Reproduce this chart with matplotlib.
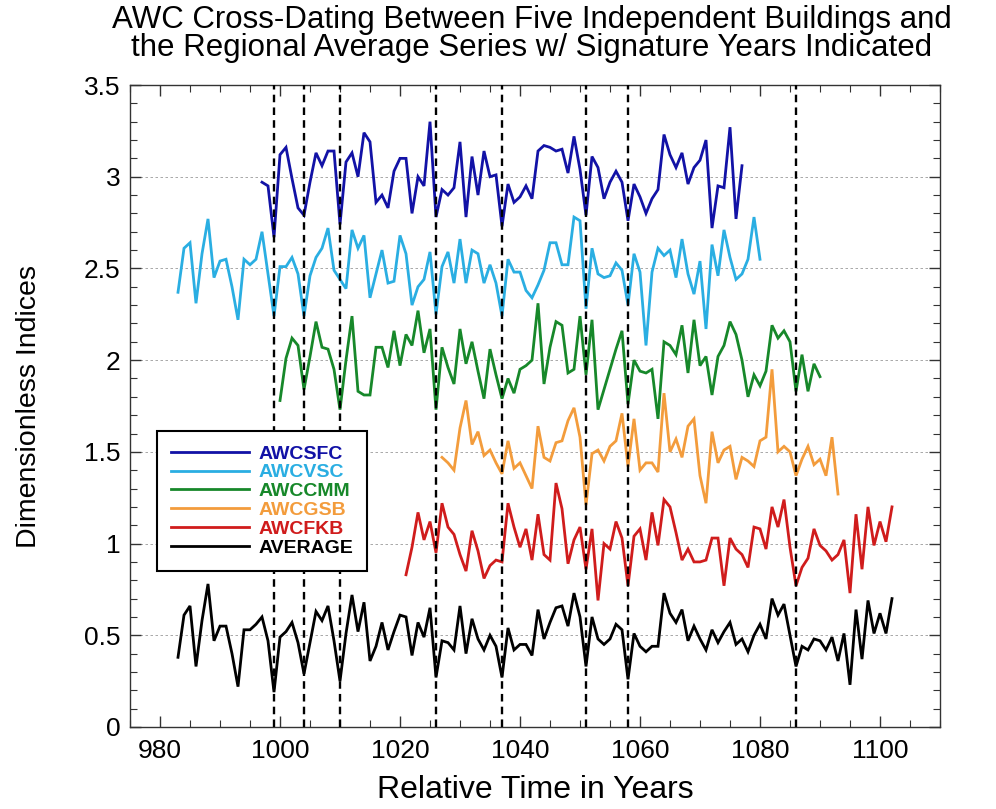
import numpy as np
import matplotlib
matplotlib.use("Agg")
import matplotlib.pyplot as plt
from matplotlib.ticker import MultipleLocator

plt.rcParams['font.family'] = ['Liberation Sans', 'DejaVu Sans']

# ---------------- data ----------------
series_names = ["AWCSFC", "AWCVSC", "AWCCMM", "AWCGSB", "AWCFKB", "AVERAGE"]
series_colors = ["#1212a6", "#2aaee2", "#17882a", "#f39c3c", "#d01c1c", "#000000"]

sfc_start = 997
sfc = [2.97, 2.95, 2.67, 3.12, 3.16, 2.99, 2.83, 2.79, 2.97, 3.13,
       3.06, 3.14, 3.14, 2.74, 3.08, 3.13, 3.00, 3.24, 3.19, 2.86,
       2.90, 2.83, 3.03, 3.10, 3.10, 2.80, 3.00, 2.95, 3.30, 2.78,
       2.93, 2.90, 2.94, 3.19, 2.78, 3.11, 2.90, 3.14, 3.00, 3.01,
       2.73, 2.96, 2.86, 2.89, 2.95, 2.88, 3.14, 3.17, 3.16, 3.14,
       3.15, 3.02, 3.22, 3.04, 2.79, 3.11, 3.05, 2.88, 2.97, 3.03,
       2.97, 2.76, 2.96, 2.89, 2.80, 2.88, 2.93, 3.23, 3.12, 3.05,
       3.13, 2.96, 3.05, 3.09, 3.20, 2.72, 2.95, 2.94, 3.27, 2.77,
       3.06]

vsc_start = 983
vsc = [2.37, 2.61, 2.64, 2.31, 2.58, 2.77, 2.45, 2.54, 2.55, 2.40,
       2.22, 2.55, 2.52, 2.55, 2.70, 2.47, 2.24, 2.51, 2.51, 2.56,
       2.47, 2.24, 2.46, 2.56, 2.61, 2.72, 2.49, 2.44, 2.39, 2.71,
       2.61, 2.68, 2.34, 2.47, 2.60, 2.42, 2.43, 2.68, 2.58, 2.30,
       2.40, 2.44, 2.59, 2.25, 2.51, 2.59, 2.42, 2.66, 2.42, 2.60,
       2.58, 2.42, 2.52, 2.42, 2.24, 2.55, 2.48, 2.48, 2.38, 2.34,
       2.41, 2.49, 2.64, 2.64, 2.52, 2.52, 2.78, 2.76, 2.28, 2.61,
       2.47, 2.45, 2.46, 2.53, 2.49, 2.30, 2.58, 2.48, 2.08, 2.48,
       2.61, 2.57, 2.60, 2.45, 2.66, 2.47, 2.36, 2.54, 2.17, 2.63,
       2.46, 2.71, 2.56, 2.44, 2.47, 2.55, 2.78, 2.55]

cmm_start = 1000
cmm = [1.78, 2.01, 2.12, 2.08, 1.84, 2.02, 2.21, 2.07, 2.06, 1.95,
       1.73, 2.00, 2.24, 1.83, 1.81, 1.81, 2.07, 2.07, 1.96, 2.16,
       1.97, 2.14, 2.08, 2.27, 2.04, 2.17, 1.73, 2.07, 1.96, 1.87,
       2.17, 1.98, 2.10, 1.94, 1.79, 2.06, 1.92, 1.79, 1.90, 1.82,
       1.95, 1.97, 2.00, 2.31, 1.87, 2.07, 2.21, 2.19, 1.93, 1.95,
       2.24, 1.92, 2.22, 1.73, 1.84, 1.95, 2.06, 2.16, 1.76, 2.00,
       1.94, 1.93, 1.95, 1.68, 2.10, 2.08, 2.03, 2.19, 1.93, 2.22,
       1.97, 2.02, 1.81, 2.02, 2.08, 2.21, 2.14, 2.00, 1.80, 1.92,
       1.86, 1.94, 2.19, 2.12, 2.16, 2.10, 1.83, 2.03, 1.83, 1.98,
       1.91]

gsb_start = 1027
gsb = [1.47, 1.44, 1.40, 1.63, 1.78, 1.54, 1.61, 1.48, 1.51, 1.44,
       1.38, 1.56, 1.41, 1.44, 1.37, 1.30, 1.64, 1.47, 1.45, 1.55,
       1.56, 1.67, 1.74, 1.58, 1.21, 1.49, 1.51, 1.45, 1.53, 1.56,
       1.71, 1.42, 1.68, 1.40, 1.44, 1.44, 1.39, 1.82, 1.50, 1.57,
       1.47, 1.64, 1.68, 1.37, 1.22, 1.61, 1.44, 1.51, 1.53, 1.35,
       1.47, 1.45, 1.42, 1.56, 1.58, 1.95, 1.50, 1.53, 1.50, 1.37,
       1.46, 1.53, 1.43, 1.46, 1.37, 1.58, 1.27]

fkb_start = 1021
fkb = [0.83, 0.98, 1.17, 1.02, 1.12, 0.95, 1.22, 1.09, 1.05, 0.94,
       0.85, 1.07, 0.96, 0.81, 0.88, 0.91, 0.90, 1.22, 1.09, 0.98,
       1.08, 0.91, 1.16, 0.94, 0.91, 1.33, 1.19, 0.89, 1.02, 1.09,
       0.86, 1.08, 0.69, 1.00, 0.97, 1.12, 1.03, 0.77, 1.04, 1.08,
       0.91, 1.17, 0.99, 1.24, 1.20, 1.06, 0.91, 0.97, 0.90, 0.90,
       0.91, 1.03, 1.03, 0.77, 1.03, 0.97, 0.94, 0.87, 1.09, 1.08,
       0.97, 1.20, 1.09, 1.24, 0.98, 0.77, 0.87, 0.92, 1.08, 0.99,
       0.96, 0.91, 0.94, 1.02, 0.73, 1.16, 0.86, 1.20, 0.99, 1.12,
       1.01, 1.20]

avg_start = 983
avg = [0.38, 0.61, 0.66, 0.33, 0.58, 0.78, 0.47, 0.55, 0.55, 0.40,
       0.22, 0.53, 0.53, 0.56, 0.60, 0.47, 0.19, 0.49, 0.52, 0.57,
       0.46, 0.29, 0.46, 0.63, 0.58, 0.66, 0.47, 0.25, 0.51, 0.72,
       0.52, 0.68, 0.36, 0.44, 0.57, 0.42, 0.52, 0.61, 0.60, 0.39,
       0.57, 0.49, 0.65, 0.27, 0.47, 0.46, 0.42, 0.66, 0.40, 0.59,
       0.48, 0.42, 0.50, 0.44, 0.27, 0.54, 0.42, 0.45, 0.45, 0.39,
       0.64, 0.48, 0.57, 0.65, 0.66, 0.55, 0.73, 0.60, 0.33, 0.60,
       0.48, 0.45, 0.48, 0.56, 0.53, 0.26, 0.51, 0.44, 0.41, 0.44,
       0.44, 0.73, 0.62, 0.57, 0.64, 0.47, 0.55, 0.48, 0.42, 0.53,
       0.46, 0.52, 0.57, 0.45, 0.48, 0.41, 0.50, 0.56, 0.48, 0.70,
       0.61, 0.67, 0.50, 0.33, 0.44, 0.42, 0.48, 0.47, 0.42, 0.49,
       0.36, 0.51, 0.23, 0.64, 0.37, 0.69, 0.51, 0.62, 0.51, 0.70]

signature_years = [999, 1004, 1010, 1026, 1037, 1051, 1058, 1086]

y_ticks = [0, 0.5, 1, 1.5, 2, 2.5, 3, 3.5]
y_tick_labels = ["0", "0.5", "1", "1.5", "2", "2.5", "3", "3.5"]
x_ticks = [980, 1000, 1020, 1040, 1060, 1080, 1100]

title_text = ("AWC Cross-Dating Between Five Independent Buildings and\n"
              "the Regional Average Series w/ Signature Years Indicated")
x_label = "Relative Time in Years"
y_label = "Dimensionless Indices"

# ---------------- figure ----------------
W, H = 996, 809
fig = plt.figure(figsize=(W / 100, H / 100), dpi=100)
ax = fig.add_axes([130 / W, 82 / H, 810 / W, 642 / H])

all_series = [(sfc_start, sfc), (vsc_start, vsc), (cmm_start, cmm),
              (gsb_start, gsb), (fkb_start, fkb), (avg_start, avg)]

for y in y_ticks[1:-1]:
    ax.axhline(y, color="#9a9a9a", lw=0.6, ls=(0, (3, 3)), zorder=0)

handles = []
for (start, vals), name, col in zip(all_series, series_names, series_colors):
    yrs = np.arange(start, start + len(vals))
    h, = ax.plot(yrs, vals, color=col, lw=2.0, label=name, zorder=3,
                 solid_joinstyle="miter")
    handles.append(h)

for yr in signature_years:
    ax.axvline(yr, color="black", lw=1.7, ls=(0, (3.2, 2.2)), zorder=4)

ax.set_xlim(975, 1110)
ax.set_ylim(0, 3.5)
ax.set_xticks(x_ticks)
ax.set_yticks(y_ticks)
ax.set_yticklabels(y_tick_labels)
ax.xaxis.set_minor_locator(MultipleLocator(5))
ax.yaxis.set_minor_locator(MultipleLocator(0.1))
ax.tick_params(which="both", direction="in", top=True, right=True,
               colors="#333333", labelcolor="black", labelsize=19)
ax.tick_params(which="major", length=8, width=1)
ax.tick_params(which="minor", length=5, width=0.8)
ax.tick_params(axis="x", pad=9)
ax.tick_params(axis="y", pad=7)
for s in ax.spines.values():
    s.set_color("#333333")
    s.set_linewidth(1.0)

ax.set_xlabel(x_label, fontsize=23, labelpad=8)
ax.set_ylabel(y_label, fontsize=20.5, labelpad=30)

fig.text(532 / W, 1 - 5 / H, title_text, ha="center", va="top",
         fontsize=22.5, linespacing=0.93)

leg = ax.legend(handles, series_names, loc="upper left",
                bbox_to_anchor=(0.0333, 0.461), borderaxespad=0,
                frameon=True, fancybox=False, edgecolor="black",
                framealpha=1, handlelength=4.0, handletextpad=0.5,
                labelspacing=0.06, borderpad=0.72,
                prop=dict(weight="bold", size=14))
leg.get_frame().set_linewidth(1.5)
for txt, col in zip(leg.get_texts(), series_colors):
    txt.set_color(col)

fig.savefig("out.png", dpi=100)
